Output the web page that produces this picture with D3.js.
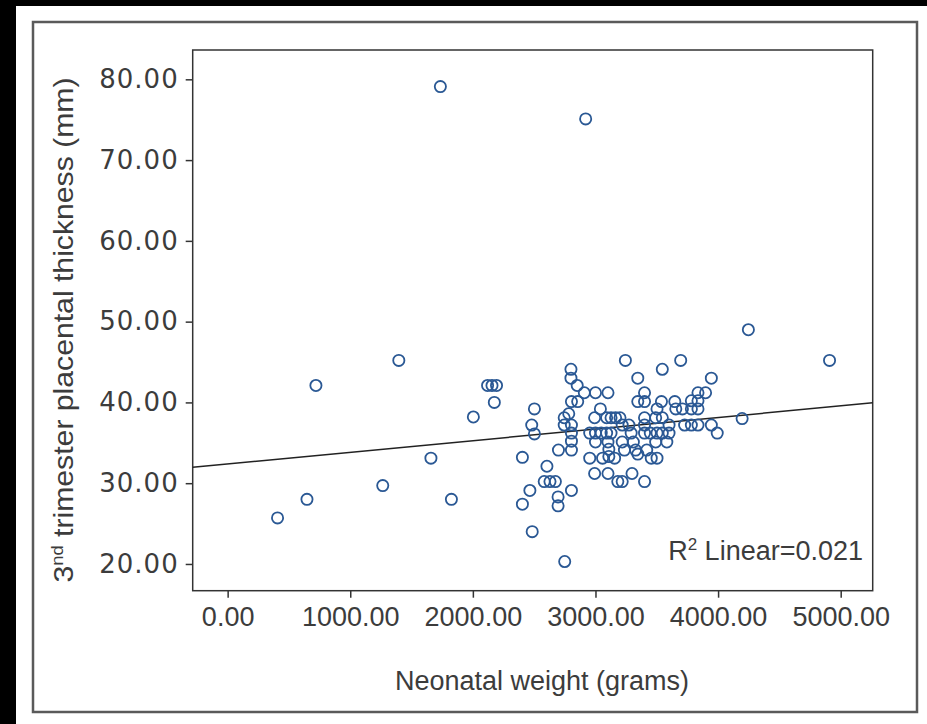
<!DOCTYPE html>
<html>
<head>
<meta charset="utf-8">
<script src="https://cdn.jsdelivr.net/npm/d3@7"></script>
<style>
    html, body { margin: 0; padding: 0; background: #000; }
    svg { display: block; }
</style>
</head>
<body>
<div id="chart"></div>
<script>
// neonatal weight (g) and 3rd trimester placental thickness (mm)
const weights = [
    1735, 2920, 4247, 4909, 1396, 3244, 3695, 720, 407, 647,
    1265, 1825, 1658, 2004, 2120, 2156, 2193, 2175, 4196, 3945,
    3993, 2484, 2749, 2404, 2465, 2404, 2502, 2480, 2502, 2604,
    2582, 2629, 2673, 2695, 2695, 2804, 2698,
    2800, 2800, 2851, 2909, 2804, 2855, 2782, 2745, 2745, 2804,
    2804, 2804, 2804,
    3000, 3102, 3040, 2993, 3091, 3127, 3164, 3200, 2953, 3000,
    3047, 3091, 3127, 3000, 3102, 3109, 3109, 2953, 3058, 3156,
    2993, 3102, 3182, 3218, 3298, 3400,
    3345, 3400, 3545, 3345, 3400, 3538, 3647, 3218, 3273, 3400,
    3502, 3545, 3491, 3291, 3400, 3447, 3502, 3545, 3600, 3400,
    3600, 3218, 3309, 3491, 3582, 3236, 3327, 3418, 3345, 3455,
    3502,
    3655, 3727, 3782, 3836, 3782, 3836, 3782, 3836, 3836, 3898,
    3945, 3709
];
const thickness = [
    79.1, 75.1, 49.0, 45.2, 45.2, 45.2, 45.2, 42.1, 25.7, 28.0,
    29.7, 28.0, 33.1, 38.2, 42.1, 42.1, 42.1, 40.0, 38.0, 43.0,
    36.2, 24.0, 20.3, 27.4, 29.1, 33.2, 39.2, 37.2, 36.1, 32.1,
    30.2, 30.2, 30.2, 28.3, 27.2, 29.1, 34.1,
    44.1, 43.0, 42.1, 41.2, 40.1, 40.1, 38.6, 38.1, 37.2, 37.2,
    36.2, 35.2, 34.1,
    41.2, 41.2, 39.2, 38.1, 38.1, 38.1, 38.1, 38.1, 36.2, 36.2,
    36.2, 36.2, 36.2, 35.1, 35.1, 34.2, 33.3, 33.1, 33.1, 33.1,
    31.2, 31.2, 30.2, 30.2, 31.2, 30.2,
    43.0, 41.2, 44.1, 40.1, 40.1, 40.1, 40.1, 37.2, 37.2, 38.1,
    39.2, 38.1, 38.1, 36.2, 36.2, 36.2, 36.2, 36.2, 36.2, 37.2,
    37.2, 35.1, 35.1, 35.1, 35.1, 34.1, 34.1, 34.1, 33.6, 33.1,
    33.1,
    39.2, 37.2, 37.2, 37.2, 39.2, 39.2, 40.2, 40.2, 41.2, 41.2,
    37.2, 39.2
];

const xTicks = [0, 1000, 2000, 3000, 4000, 5000];
const yTicks = [20, 30, 40, 50, 60, 70, 80];

// fit line as printed (R2 linear = 0.021)
const fitIntercept = 32.39;
const fitSlope = 0.001436;
const rSquared = '0.021';

const width = 927,
    height = 724,
    plot = {
        left: 192.7,
        right: 872.7,
        top: 50,
        bottom: 590.7
    };

const svg = d3.select('#chart').append('svg')
    .attr('width', width)
    .attr('height', height);

// white page with grey frame
svg.append('rect')
    .attr('x', 16)
    .attr('y', 6)
    .attr('width', width - 16)
    .attr('height', height - 6)
    .attr('fill', '#fff');

svg.append('rect')
    .attr('x', 33)
    .attr('y', 22)
    .attr('width', 884)
    .attr('height', 690)
    .attr('fill', 'none')
    .attr('stroke', '#5a5a5a')
    .attr('stroke-width', 2.5);

const x = d3.scaleLinear()
    .domain([-285, 5261])
    .range([plot.left, plot.right]);

const y = d3.scaleLinear()
    .domain([16.69, 83.63])
    .range([plot.bottom, plot.top]);

const textColor = '#3c3c3c';

// Axes

const axisX = d3.axisBottom(x)
    .tickValues(xTicks)
    .tickSize(7)
    .tickPadding(9)
    .tickFormat(d3.format('.2f'));

const gx = svg.append('g')
    .attr('transform', 'translate(0, ' + plot.bottom + ')')
    .call(axisX);

gx.select('.domain').remove();
gx.selectAll('.tick line')
    .attr('stroke', '#333')
    .attr('stroke-width', 1.5);
gx.selectAll('.tick text')
    .attr('fill', textColor)
    .attr('dy', '0.71em')
    .style('font-family', '"Liberation Sans", Arial, sans-serif')
    .style('font-size', '27px');

const axisY = d3.axisLeft(y)
    .tickValues(yTicks)
    .tickSize(7)
    .tickPadding(7)
    .tickFormat(d3.format('.2f'));

const gy = svg.append('g')
    .attr('transform', 'translate(' + plot.left + ', 0)')
    .call(axisY);

gy.select('.domain').remove();
gy.selectAll('.tick line')
    .attr('stroke', '#333')
    .attr('stroke-width', 1.5);
gy.selectAll('.tick text')
    .attr('fill', textColor)
    .style('font-family', '"DejaVu Sans", sans-serif')
    .style('font-size', '26px')
    .style('letter-spacing', '1px');

// plot box
svg.append('rect')
    .attr('x', plot.left)
    .attr('y', plot.top)
    .attr('width', plot.right - plot.left)
    .attr('height', plot.bottom - plot.top)
    .attr('fill', 'none')
    .attr('stroke', '#333')
    .attr('stroke-width', 1.5);

// fit line across the whole x range
const xDomain = x.domain();

svg.append('line')
    .attr('x1', x(xDomain[0]))
    .attr('y1', y(fitIntercept + fitSlope * xDomain[0]))
    .attr('x2', x(xDomain[1]))
    .attr('y2', y(fitIntercept + fitSlope * xDomain[1]))
    .attr('stroke', '#222')
    .attr('stroke-width', 1.5);

// points
const points = weights.map((w, i) => ({ w: w, t: thickness[i] }));

svg.append('g')
    .selectAll('circle')
    .data(points)
    .enter()
    .append('circle')
    .attr('cx', d => x(d.w))
    .attr('cy', d => y(d.t))
    .attr('r', 5.6)
    .attr('fill', 'none')
    .attr('stroke', '#2a5894')
    .attr('stroke-width', 1.8);

// R2 annotation
const r2 = svg.append('text')
    .attr('x', 863)
    .attr('y', 560)
    .attr('text-anchor', 'end')
    .attr('fill', textColor)
    .style('font-family', '"Liberation Sans", Arial, sans-serif')
    .style('font-size', '27px');

r2.append('tspan').text('R');
r2.append('tspan')
    .attr('dy', -10)
    .style('font-size', '17px')
    .text('2');
r2.append('tspan')
    .attr('dy', 10)
    .text(' Linear=' + rSquared);

// axis titles
svg.append('text')
    .attr('x', 542)
    .attr('y', 690)
    .attr('text-anchor', 'middle')
    .attr('fill', textColor)
    .style('font-family', '"Liberation Sans", Arial, sans-serif')
    .style('font-size', '27px')
    .text('Neonatal weight (grams)');

const yTitle = svg.append('text')
    .attr('transform', 'translate(73, 330) rotate(-90)')
    .attr('text-anchor', 'middle')
    .attr('fill', textColor)
    .attr('textLength', 505)
    .attr('lengthAdjust', 'spacingAndGlyphs')
    .style('font-family', '"Liberation Sans", Arial, sans-serif')
    .style('font-size', '28px');

yTitle.append('tspan').text('3');
yTitle.append('tspan')
    .attr('dy', -10)
    .style('font-size', '17px')
    .text('nd');
yTitle.append('tspan')
    .attr('dy', 10)
    .text(' trimester placental thickness (mm)');
</script>
</body>
</html>
